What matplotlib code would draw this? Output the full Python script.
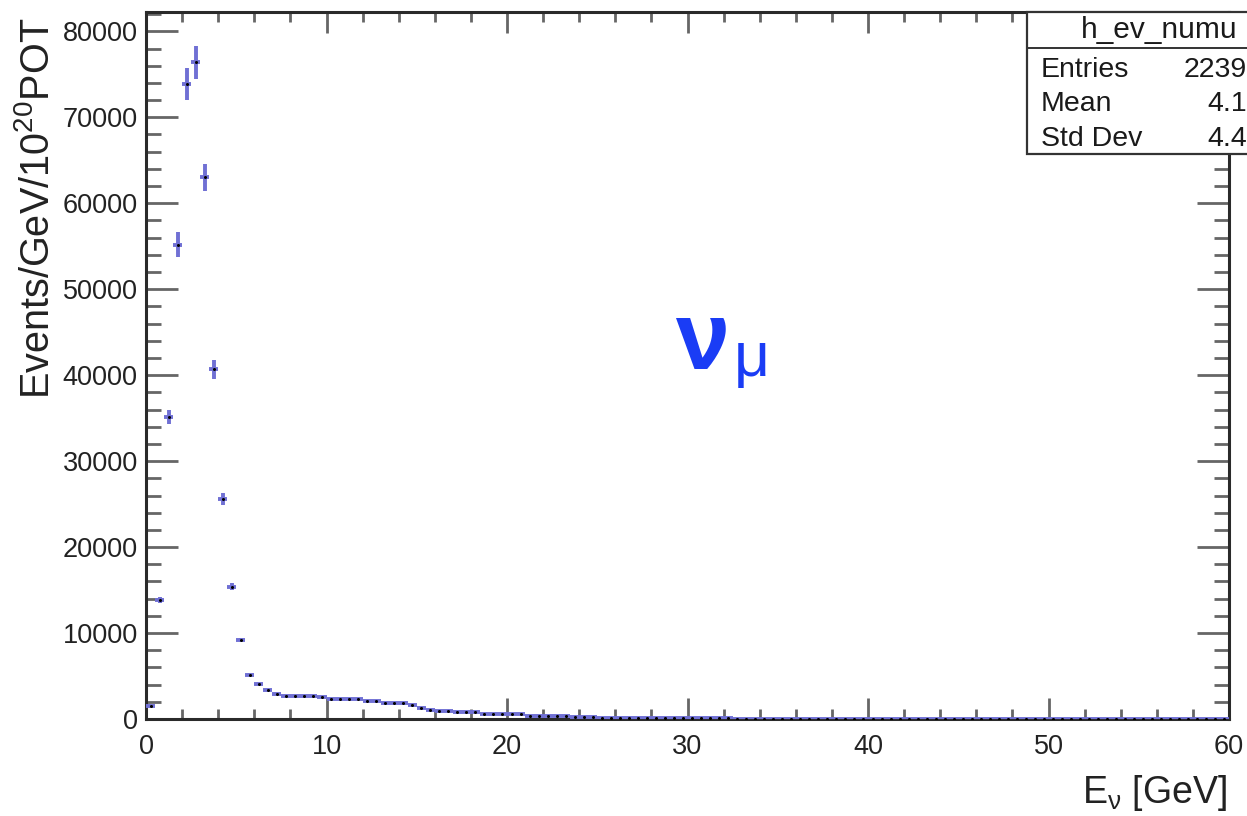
import numpy as np
import matplotlib
matplotlib.use('Agg')
import matplotlib.pyplot as plt
from matplotlib.patches import Rectangle
from matplotlib.lines import Line2D
from matplotlib.ticker import MultipleLocator

# ------------------------------------ fonts ------------------------------------ #
plt.rcParams['font.family'] = ['Liberation Sans', 'DejaVu Sans']
plt.rcParams['mathtext.fontset'] = 'custom'
plt.rcParams['mathtext.rm'] = 'Liberation Sans'
plt.rcParams['mathtext.it'] = 'Liberation Sans:italic'
plt.rcParams['mathtext.default'] = 'regular'

# ------------------------------------ data ------------------------------------ #
# histogram binning: 120 bins of 0.5 GeV from 0 to 60 GeV
bin_edges = np.linspace(0, 60, 121)

# events / GeV / 1e20 POT, one value per bin
counts = [
    1470, 13840, 35100, 55200, 73900, 76400, 63000, 40700, 25600, 15400,   # 0-5
    9190, 5150, 4100, 3400, 2950, 2700, 2700, 2700, 2700, 2520,            # 5-10
    2300, 2300, 2300, 2290, 2060, 2060, 1860, 1860, 1860, 1590,            # 10-15
    1320, 1050, 970, 970, 780, 780, 780, 550, 550, 550,                    # 15-20
    550, 550, 320, 320, 310, 300, 300, 290, 290, 280,                      # 20-25
    150, 130, 120, 110, 100, 95, 90, 85, 80, 75,                           # 25-30
    70, 68, 65, 62, 60, 58, 55, 52, 50, 48,                                # 30-35
    46, 44, 42, 40, 38, 37, 36, 35, 34, 33,                                # 35-40
    32, 31, 30, 29, 28, 27, 26, 25, 24, 23,                                # 40-45
    22, 22, 21, 21, 20, 20, 19, 19, 18, 18,                                # 45-50
    17, 17, 16, 16, 15, 15, 14, 14, 13, 13,                                # 50-55
    12, 12, 12, 11, 11, 11, 10, 10, 10, 10,                                # 55-60
]

errors = [
    150, 400, 815, 1455, 1840, 1940, 1610, 1090, 740, 430,
    180, 120, 100, 90, 85, 80, 80, 80, 80, 75,
    70, 70, 70, 70, 65, 65, 60, 60, 60, 55,
    55, 50, 50, 50, 45, 45, 45, 40, 40, 40,
    40, 40, 30, 30, 30, 30, 30, 30, 30, 30,
    20, 20, 20, 20, 20, 18, 18, 18, 18, 18,
    16, 16, 16, 16, 16, 15, 15, 15, 15, 15,
    14, 14, 14, 14, 14, 13, 13, 13, 13, 13,
    12, 12, 12, 12, 12, 11, 11, 11, 11, 11,
    10, 10, 10, 10, 10, 10, 10, 10, 10, 10,
    9, 9, 9, 9, 9, 9, 9, 9, 9, 9,
    8, 8, 8, 8, 8, 8, 8, 8, 8, 8,
]

hist_name = 'h_ev_numu'
stat_labels = ['Entries', 'Mean', 'Std Dev']
stat_values = ['2239', '4.1', '4.4']

# ------------------------------------ plot ------------------------------------ #
W, H = 1247, 816
fig = plt.figure(figsize=(W / 100, H / 100), dpi=100)
ax = fig.add_axes([146 / W, 1 - 719 / H, (1229 - 146) / W, (719 - 12) / H])

centers = 0.5 * (bin_edges[:-1] + bin_edges[1:])
half_w = 0.5 * np.diff(bin_edges)
ax.errorbar(centers, counts, xerr=half_w, yerr=errors, fmt='none',
            ecolor='#7070d4', elinewidth=2.8, capsize=0, zorder=3)
ax.plot(centers, counts, ls='none', marker='o', ms=2.2, color='black',
        mec='none', zorder=4)

ax.set_xlim(0, 60)
ax.set_ylim(0, 82250)
ax.xaxis.set_major_locator(MultipleLocator(10))
ax.xaxis.set_minor_locator(MultipleLocator(2))
ax.yaxis.set_major_locator(MultipleLocator(10000))
ax.yaxis.set_minor_locator(MultipleLocator(2000))

ax.tick_params(axis='both', which='both', direction='in', top=True, right=True,
               color='#666666', width=2.0, labelsize=19.5, labelcolor='#222222')
ax.tick_params(axis='x', which='major', length=15, pad=11)
ax.tick_params(axis='x', which='minor', length=7)
ax.tick_params(axis='y', which='major', length=23, pad=6)
ax.tick_params(axis='y', which='minor', length=10.5)
for sp in ax.spines.values():
    sp.set_linewidth(2.2)
    sp.set_color('#2a2a2a')

# axis titles (ROOT style: aligned to the ends)
fig.text(38 / W, 1 - 18 / H, 'Events/GeV/10$^{20}$POT', rotation=90,
         ha='center', va='top', fontsize=28.5, color='#222222')
fig.text(1227 / W, 1 - 813 / H, 'E$_{\\nu}$ [GeV]', ha='right', va='bottom',
         fontsize=27, color='#222222')

# nu_mu label
fig.text(703 / W, 1 - 369 / H, 'ν', ha='center', va='baseline', fontsize=70,
         fontweight='bold', color='#1a3cf5')
fig.text(752 / W, 1 - 376 / H, 'μ', ha='center', va='baseline', fontsize=45,
         color='#1a3cf5')

# stat box, cut by the right edge of the canvas
bx0, by0, by1, bsep, bx1 = 1027, 12, 154, 48, 1300
fig.patches.append(Rectangle((bx0 / W, 1 - by1 / H), (bx1 - bx0) / W, (by1 - by0) / H,
                             transform=fig.transFigure, facecolor='white',
                             edgecolor='#333333', lw=1.6, zorder=5))
fig.lines.append(Line2D([bx0 / W, bx1 / W], [1 - bsep / H, 1 - bsep / H],
                        transform=fig.transFigure, color='#333333', lw=1.4, zorder=6))
fig.text(1159 / W, 1 - 30 / H, hist_name, ha='center', va='center', fontsize=21.5,
         color='#1a1a1a', zorder=7)
rows_y = [70, 104, 139]
for lab, val, yy in zip(stat_labels, stat_values, rows_y):
    fig.text(1041 / W, 1 - yy / H, lab, ha='left', va='center', fontsize=20.5,
             color='#1a1a1a', zorder=7)
    fig.text(1247 / W, 1 - yy / H, val, ha='right', va='center', fontsize=20.5,
             color='#1a1a1a', zorder=7)

fig.savefig('out.png', dpi=100)
